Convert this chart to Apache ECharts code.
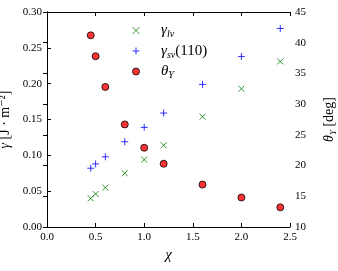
<!DOCTYPE html>
<html><head><meta charset="utf-8">
<script src="https://cdn.jsdelivr.net/npm/echarts@6/dist/echarts.min.js"></script>
<style>html,body{margin:0;padding:0;background:#fff}#c{width:338px;height:271px}</style>
</head><body><div id="c"></div>
<script>
const chi = [0.45, 0.5, 0.6, 0.8, 1.0, 1.2, 1.6, 2.0, 2.4];
const gammaLv = [0.040, 0.046, 0.055, 0.075, 0.094, 0.114, 0.154, 0.193, 0.231];
const gammaSv = [0.082, 0.088, 0.098, 0.119, 0.139, 0.159, 0.199, 0.238, 0.277];
const thetaY = [41.2, 37.8, 32.8, 26.7, 22.9, 20.3, 16.9, 14.8, 13.2];
const xTicks = {min: 0, max: 2.5, step: 0.5};
const yTicks = {min: 0, max: 0.30, step: 0.05};
const y2Ticks = {min: 10, max: 45, step: 5};

const FF = '"Liberation Serif", "DejaVu Serif", serif';
const pairs = a => chi.map((x, i) => [x, a[i]]);
const chart = echarts.init(document.getElementById('c'));
const axisCommon = {
  axisLine: {show: true, lineStyle: {color: '#000', width: 1}},
  axisTick: {show: true, inside: true, length: 4, lineStyle: {color: '#000'}},
  splitLine: {show: false},
  axisLabel: {color: '#000', fontFamily: FF, fontSize: 11}
};
const rich = {
  i: {fontFamily: FF, fontSize: 15, fontStyle: 'italic', color: '#000'},
  n: {fontFamily: FF, fontSize: 15, color: '#000'},
  s: {fontFamily: FF, fontSize: 10, fontStyle: 'italic', color: '#000', padding: [8, 0, 0, 0]}
};
const richAx = {
  i: {fontFamily: FF, fontSize: 14, fontStyle: 'italic', color: '#000'},
  n: {fontFamily: FF, fontSize: 14, color: '#000'},
  s: {fontFamily: FF, fontSize: 9, fontStyle: 'italic', color: '#000', padding: [8, 0, 0, 0]}
};
const xPath = 'path://M0,0L10,10M10,0L0,10';
const pPath = 'path://M5,0L5,10M0,5L10,5';
const green = '#008000', blue = '#0000ff', red = '#ff0000';
chart.setOption({
  animation: false,
  grid: {left: 47, right: 48, top: 12, bottom: 44, outerBoundsMode: 'none', containLabel: false},
  legend: {
    orient: 'vertical', left: 127, top: 18, itemGap: 4,
    itemWidth: 40, itemHeight: 7,
    itemStyle: {borderWidth: 1},
    data: ['lv', 'sv', 'th'],
    textStyle: {rich: rich},
    formatter: n => n === 'lv' ? '{i|γ}{s|lv}' : n === 'sv' ? '{i|γ}{s|sv}{n|(110)}' : '{i|θ}{s|Y}'
  },
  xAxis: [
    Object.assign({}, axisCommon, {type: 'value', min: xTicks.min, max: xTicks.max, interval: xTicks.step,
      name: 'χ', nameLocation: 'middle', nameGap: 18,
      nameTextStyle: {fontFamily: FF, fontSize: 15, fontStyle: 'italic', color: '#000'},
      axisLabel: Object.assign({}, axisCommon.axisLabel, {margin: 5, formatter: v => v.toFixed(1)})}),
    Object.assign({}, axisCommon, {type: 'value', position: 'top', min: xTicks.min, max: xTicks.max, interval: xTicks.step,
      axisLabel: {show: false}})
  ],
  yAxis: [
    Object.assign({}, axisCommon, {type: 'value', min: yTicks.min, max: yTicks.max, interval: yTicks.step,
      name: '{i|γ}{n| [J · m⁻²]}', nameLocation: 'middle', nameGap: 35, nameRotate: 90,
      nameTextStyle: {rich: richAx},
      axisLabel: Object.assign({}, axisCommon.axisLabel, {margin: 5, formatter: v => v.toFixed(2)})}),
    Object.assign({}, axisCommon, {type: 'value', position: 'right', min: y2Ticks.min, max: y2Ticks.max, interval: y2Ticks.step,
      name: '{i|θ}{s|Y}{n| [deg]}', nameLocation: 'middle', nameGap: 31, nameRotate: 90,
      nameTextStyle: {rich: richAx},
      axisLabel: Object.assign({}, axisCommon.axisLabel, {margin: 5})})
  ],
  series: [
    {name: 'lv', type: 'scatter', data: pairs(gammaLv), symbol: xPath, symbolSize: 6,
      itemStyle: {color: green, borderColor: green, borderWidth: 1}},
    {name: 'sv', type: 'scatter', data: pairs(gammaSv), symbol: pPath, symbolSize: 7,
      itemStyle: {color: blue, borderColor: blue, borderWidth: 1}},
    {name: 'th', type: 'scatter', yAxisIndex: 1, data: pairs(thetaY), symbol: 'circle', symbolSize: 7,
      itemStyle: {color: red, borderColor: '#000', borderWidth: 1}}
  ]
});
</script></body></html>
